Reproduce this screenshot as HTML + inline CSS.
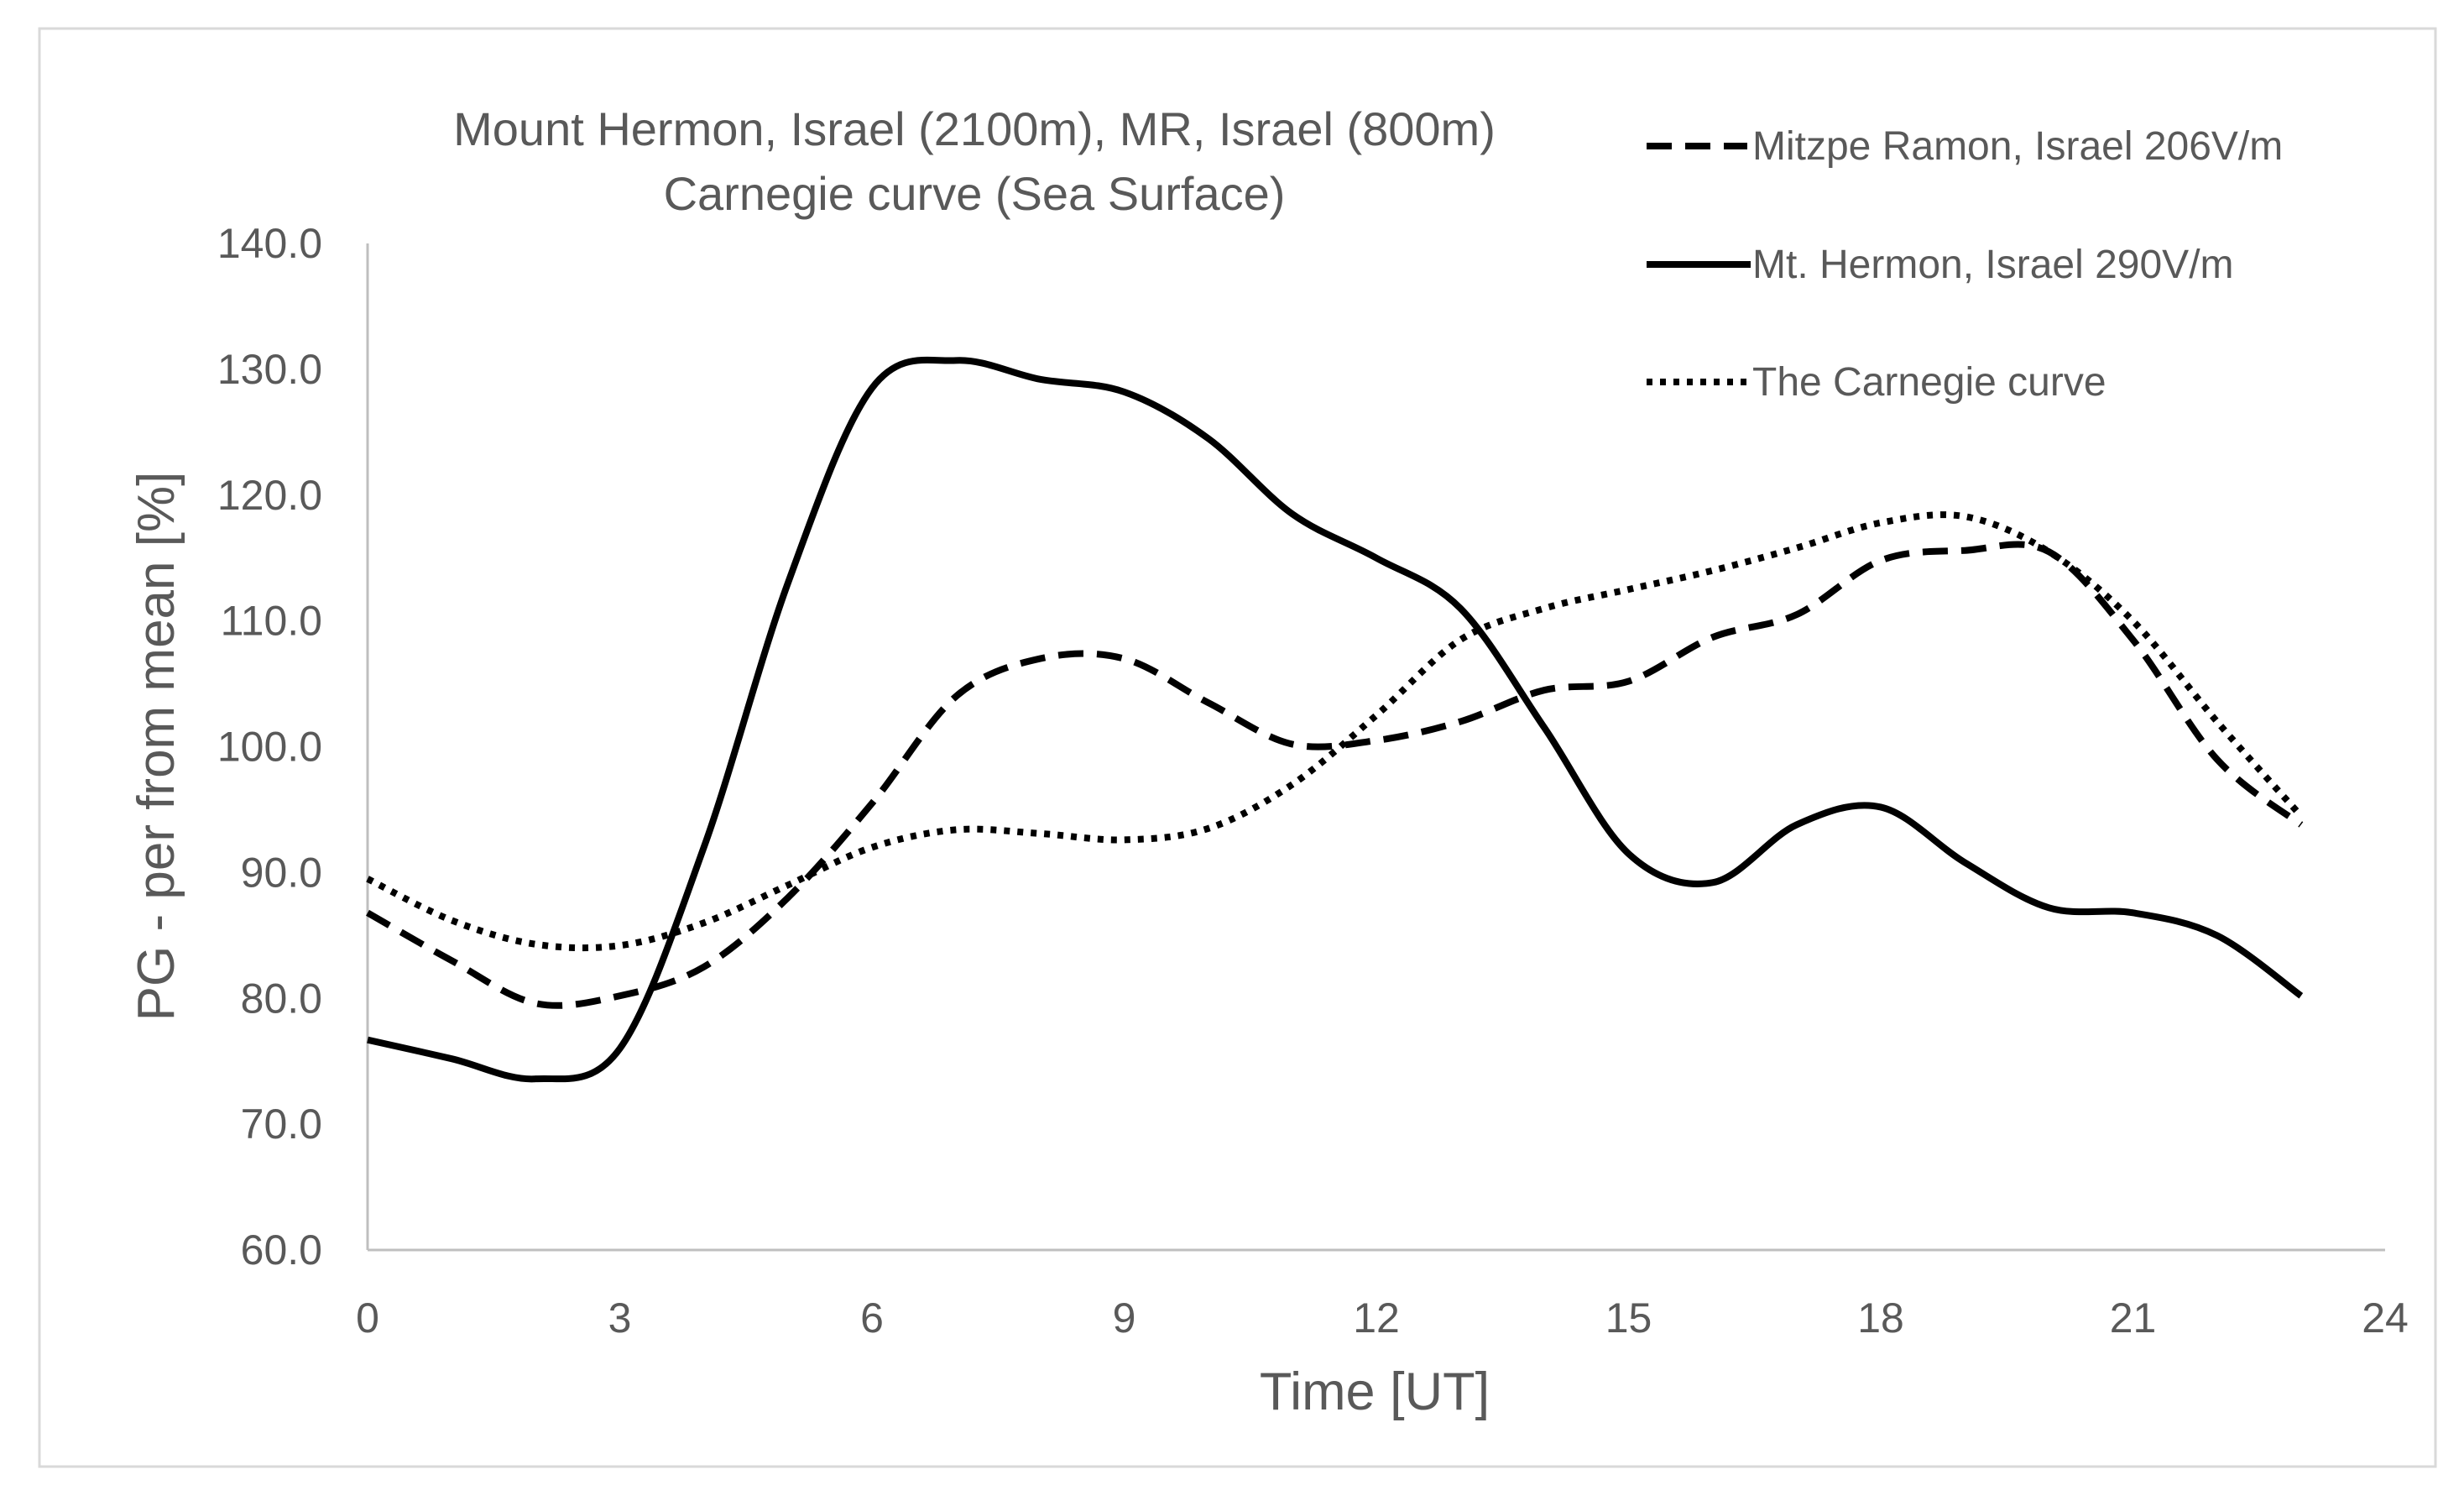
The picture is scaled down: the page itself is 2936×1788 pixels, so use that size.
<!DOCTYPE html>
<html><head><meta charset="utf-8"><style>
html,body{margin:0;padding:0;background:#fff;}
svg{display:block;font-family:"Liberation Sans",sans-serif;}
</style></head><body>
<svg id="chart" width="2936" height="1788" viewBox="0 0 2936 1788" xmlns="http://www.w3.org/2000/svg">
<rect x="47" y="34" width="2855" height="1713" fill="#fff" stroke="#d9d9d9" stroke-width="3"/>
<g id="grid"></g>
<g id="series"></g>
<text x="1161" y="173" font-size="56" fill="#595959" text-anchor="middle">Mount Hermon, Israel (2100m), MR, Israel (800m)</text>
<text x="1161" y="250" font-size="56" fill="#595959" text-anchor="middle">Carnegie curve (Sea Surface)</text>
<text transform="translate(207,889) rotate(-90)" font-size="62" fill="#595959" text-anchor="middle">PG - per from mean [%]</text>
<text x="1638" y="1679" font-size="63" fill="#595959" text-anchor="middle">Time [UT]</text>
<g>
<line x1="1962" y1="174" x2="2082" y2="174" stroke="#000" stroke-width="8" stroke-dasharray="30,16"/>
<text x="2088" y="190" font-size="48" fill="#595959">Mitzpe Ramon, Israel 206V/m</text>
<line x1="1962" y1="315" x2="2086" y2="315" stroke="#000" stroke-width="8"/>
<text x="2088" y="331" font-size="48" fill="#595959">Mt. Hermon, Israel 290V/m</text>
<line x1="1962" y1="455" x2="2082" y2="455" stroke="#000" stroke-width="8" stroke-dasharray="7,9"/>
<text x="2088" y="471" font-size="48" fill="#595959">The Carnegie curve</text>
</g>
</svg>
<script>
const hours=[0,1,2,3,4,5,6,7,8,9,10,11,12,13,14,15,16,17,18,19,20,21,22,23];
const hermon=[76.7,75.2,73.6,76,92,113,128.5,130.7,129.2,128.2,124.5,118.5,115,111,101.5,91.5,89.2,93.8,95.2,90.8,87.2,86.8,85,80.2];
const mitzpe=[86.8,83,79.6,80.2,82.5,88,95.5,104,107,107,103.5,100.2,100.5,102,104.5,105.2,108.7,110.5,114.8,115.6,115.5,108.5,99,93.8];
const carnegie=[89.5,86.2,84.3,84.2,86,89,92,93.4,93.1,92.6,93.5,97,102.5,108.5,111,112.5,114,115.8,117.8,118.3,115.5,110,102,94.5];
const yTicks=[60,70,80,90,100,110,120,130,140];
const xTicks=[0,3,6,9,12,15,18,21,24];
const NS="http://www.w3.org/2000/svg";
const X0=438,X1=2842,Y0=1489,Y1=290;
function sx(v){return X0+(v-0)/(24-0)*(X1-X0);}
function sy(v){return Y0-(v-60)/(140-60)*(Y0-Y1);}
const grid=document.getElementById('grid');
function mk(tag,attrs,parent){const e=document.createElementNS(NS,tag);for(const k in attrs)e.setAttribute(k,attrs[k]);parent.appendChild(e);return e;}
const ya=mk('line',{x1:X0,y1:Y1,x2:X0,y2:Y0,stroke:'#bfbfbf','stroke-width':3},grid);


const xa=mk('line',{x1:X0,y1:Y0,x2:X1,y2:Y0,stroke:'#bfbfbf','stroke-width':3},grid);


yTicks.forEach(v=>{
 const t=mk('text',{x:384,y:sy(v)+17,'font-size':50,fill:'#595959','text-anchor':'end'},grid);
 t.textContent=v.toFixed(1);
 
 
});
xTicks.forEach(v=>{
 const t=mk('text',{x:sx(v),y:1587,'font-size':50,fill:'#595959','text-anchor':'middle'},grid);
 t.textContent=v;
 
 
});
function pathFor(vals){
 const p=vals.map((v,i)=>[sx(hours[i]),sy(v)]);
 let d='M'+p[0][0]+','+p[0][1];
 for(let i=0;i<p.length-1;i++){
  const a=p[i-1]||p[i],b=p[i],c=p[i+1],e=p[i+2]||c;
  const t=6;
  d+=' C'+(b[0]+(c[0]-a[0])/t)+','+(b[1]+(c[1]-a[1])/t)+' '+(c[0]-(e[0]-b[0])/t)+','+(c[1]-(e[1]-b[1])/t)+' '+c[0]+','+c[1];
 }
 return d;
}
const sg=document.getElementById('series');
const s1=mk('path',{d:pathFor(carnegie),fill:'none',stroke:'#000','stroke-width':8,'stroke-dasharray':'7,9'},sg);


const s2=mk('path',{d:pathFor(mitzpe),fill:'none',stroke:'#000','stroke-width':8,'stroke-dasharray':'30,16'},sg);


const s3=mk('path',{d:pathFor(hermon),fill:'none',stroke:'#000','stroke-width':8},sg);


</script>
</body></html>
